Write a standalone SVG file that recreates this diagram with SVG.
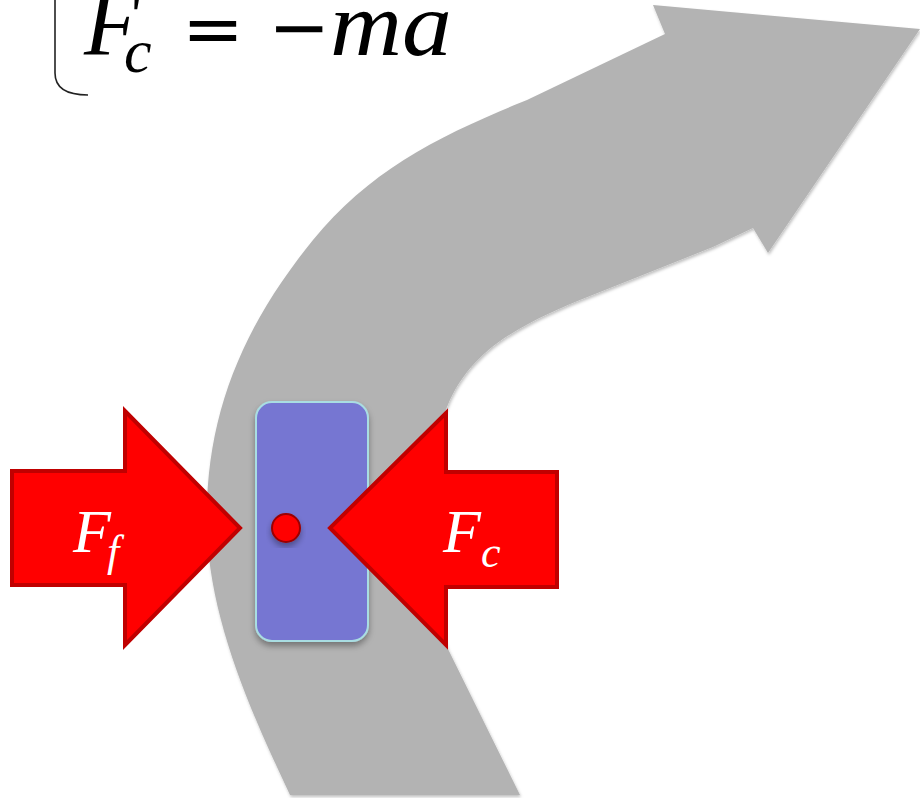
<svg xmlns="http://www.w3.org/2000/svg" width="920" height="798" viewBox="0 0 920 798">
  <defs>
    <filter id="softShadow" x="-10%" y="-10%" width="120%" height="120%">
      <feDropShadow dx="1" dy="2" stdDeviation="1.5" flood-color="#000" flood-opacity="0.25"/>
    </filter>
    <filter id="boxShadow" x="-20%" y="-10%" width="140%" height="130%">
      <feDropShadow dx="0" dy="4" stdDeviation="3" flood-color="#000" flood-opacity="0.35"/>
    </filter>
  </defs>
  <style>
    .track { fill: #b3b3b3; }
    .force { fill: #ff0000; stroke: #c00000; stroke-width: 4; stroke-linejoin: miter; }
    .lbl { font-family: "Liberation Serif", "Times New Roman", serif; font-style: italic; fill: #ffffff; }
    .eq { font-family: "Liberation Serif", "Times New Roman", serif; fill: #000000; }
    .op { font-family: "DejaVu Sans", "Liberation Sans", sans-serif; fill: #000000; }
  </style>

  <g id="equation">
    <path d="M 55,0 L 55,73 Q 55,95 88,95" fill="none" stroke="#222" stroke-width="1.6"/>
    <text class="eq" x="84" y="55" font-size="90" font-style="italic">F</text>
    <text class="eq" x="124" y="72" font-size="62" font-style="italic">c</text>
    <text class="op" x="182" y="53" font-size="72" textLength="62" lengthAdjust="spacingAndGlyphs">=</text>
    <text class="op" x="268" y="52" font-size="72" textLength="62" lengthAdjust="spacingAndGlyphs">−</text>
    <text class="eq" x="330" y="55" font-size="92" font-style="italic" textLength="122" lengthAdjust="spacingAndGlyphs">ma</text>
  </g>

  <g id="track">
    <path class="track" filter="url(#softShadow)" d="M 290,795 C 250,710 210,620 207,530 C 204,420 240,330 313,240 C 370,170 440,135 527,100 L 665,34 L 653,5 L 920,29 L 768,253 L 753,228 L 713,247 L 580,300 C 520,325 470,350 447,407 C 425,460 420,560 447,647 L 520,795 Z"/>
  </g>

  <g id="car">
    <rect x="256" y="402" width="112" height="239" rx="16" ry="16" fill="#7676d2" stroke="#a9dde2" stroke-width="2" filter="url(#boxShadow)"/>
  </g>

  <g id="mass">
    <circle cx="286" cy="528" r="14" fill="#ff0000" stroke="#9b0000" stroke-width="2" filter="url(#boxShadow)"/>
  </g>

  <g id="force-friction">
    <polygon class="force" points="12,471 125,471 125,411 240,528 125,645 125,585 12,585"/>
    <text class="lbl" x="73" y="552" font-size="62">F</text>
    <text class="lbl" x="107" y="566" font-size="44">f</text>
  </g>

  <g id="force-centripetal">
    <polygon class="force" points="557,472 446,472 446,413 330,528 446,645 446,587 557,587"/>
    <text class="lbl" x="443" y="552" font-size="62">F</text>
    <text class="lbl" x="481" y="567" font-size="44">c</text>
  </g>
</svg>
